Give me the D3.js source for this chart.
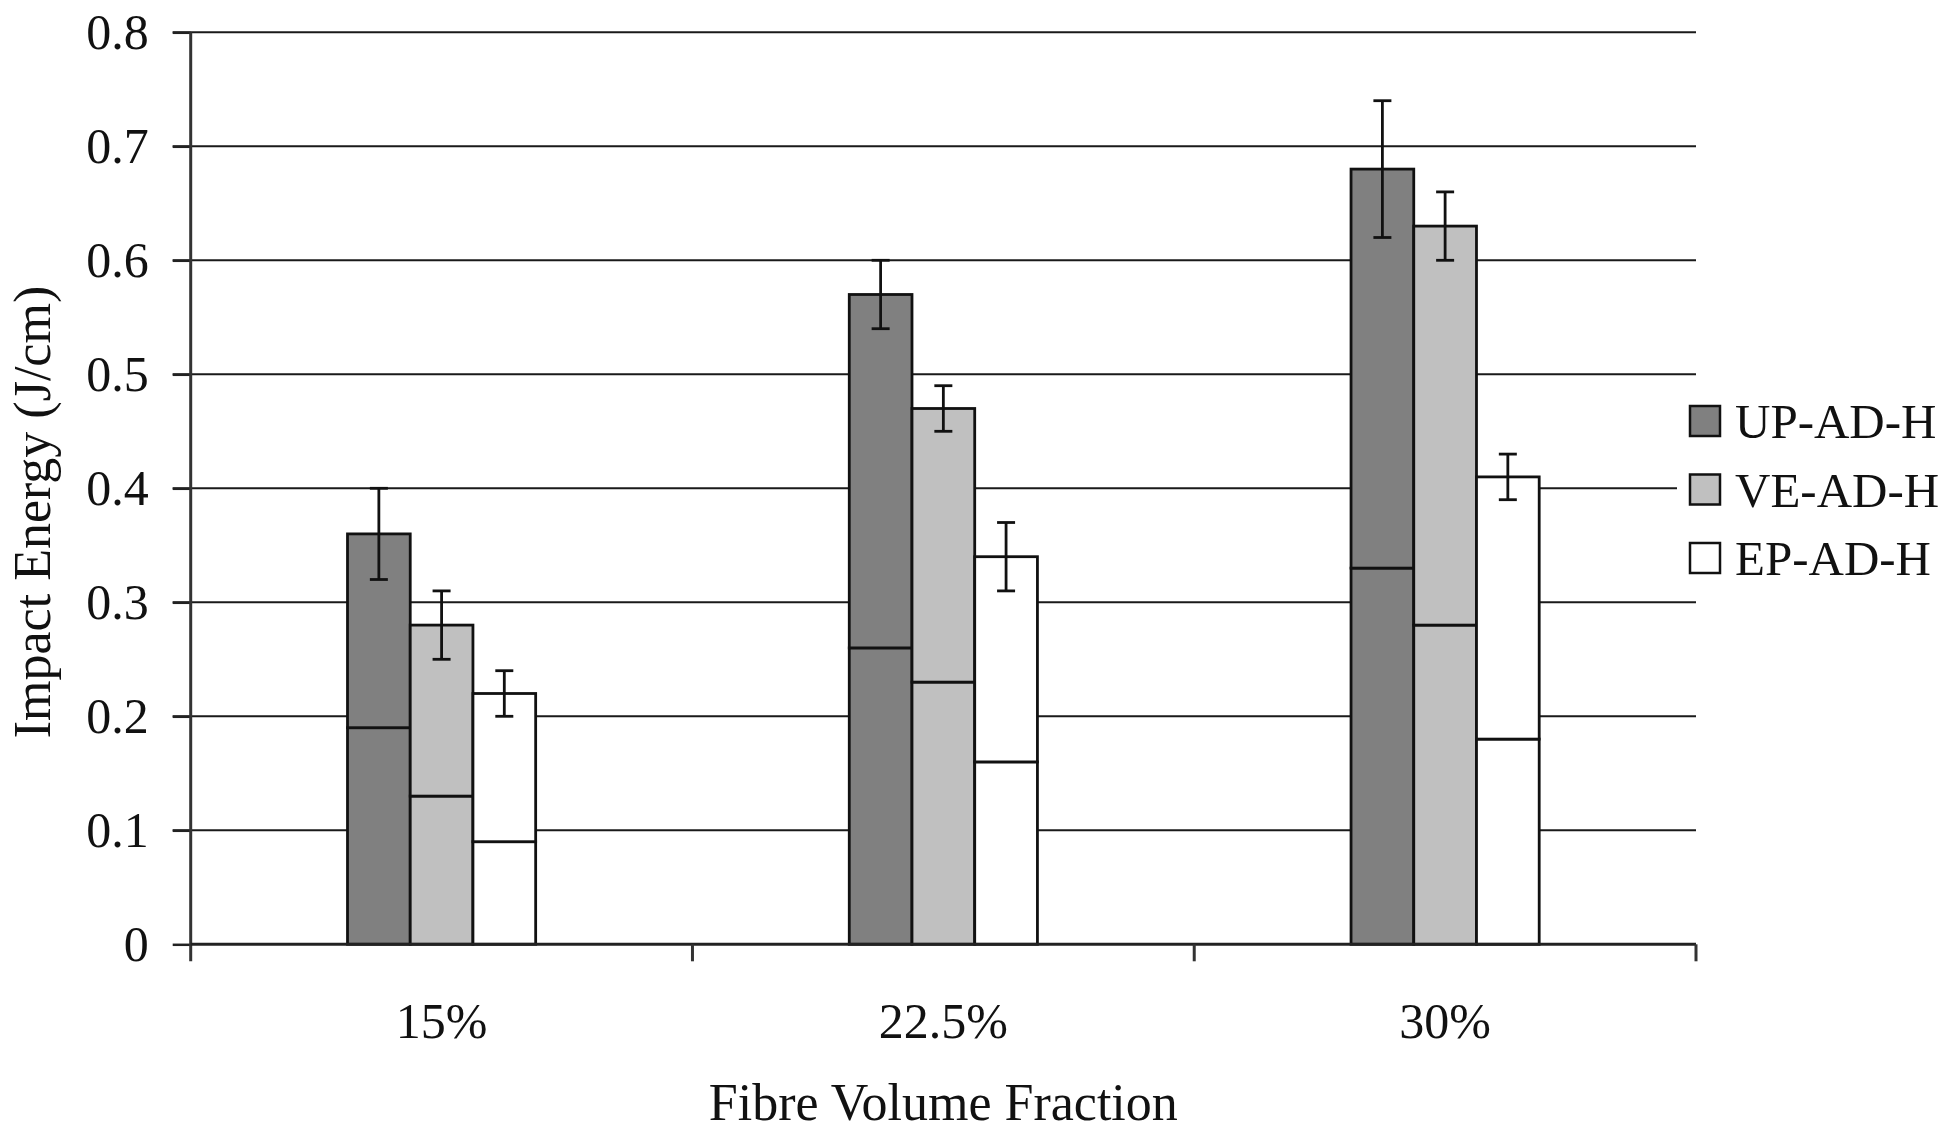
<!DOCTYPE html>
<html>
<head>
<meta charset="utf-8">
<script src="https://cdn.jsdelivr.net/npm/d3@7"></script>
<style>
  html, body { margin: 0; padding: 0; background: #fff; }
  svg { display: block; }
  text { font-family: "Liberation Serif", "Times New Roman", serif; fill: #111; }
</style>
</head>
<body>
<svg id="chart" width="1944" height="1131"></svg>
<script>
// ---- data ----
const categories = ["15%", "22.5%", "30%"];
const seriesNames = ["UP-AD-H", "VE-AD-H", "EP-AD-H"];
const upTotal = [0.36, 0.57, 0.68];
const upInner = [0.19, 0.26, 0.33];
const upErr   = [0.04, 0.03, 0.06];
const veTotal = [0.28, 0.47, 0.63];
const veInner = [0.13, 0.23, 0.28];
const veErr   = [0.03, 0.02, 0.03];
const epTotal = [0.22, 0.34, 0.41];
const epInner = [0.09, 0.16, 0.18];
const epErr   = [0.02, 0.03, 0.02];
const yTicks = [0, 0.1, 0.2, 0.3, 0.4, 0.5, 0.6, 0.7, 0.8];
const seriesColors = ["#808080", "#c0c0c0", "#ffffff"];

(function () {
const totals = [upTotal, veTotal, epTotal];
const inners = [upInner, veInner, epInner];
const errs = [upErr, veErr, epErr];

// ---- layout ----
const svg = d3.select("#chart");
const pL = 190.7, pR = 1696, pT = 32.3, pB = 944.3;

const x = d3.scaleBand().domain(categories).range([pL, pR]).padding(0);
const groupFrac = 0.375;
const sub = d3.scaleBand().domain(seriesNames).range([0, x.bandwidth() * groupFrac]).padding(0);
const groupOffset = x.bandwidth() * (1 - groupFrac) / 2;
const y = d3.scaleLinear().domain([0, 0.8]).range([pB, pT]);

const records = [];
categories.forEach((c, ci) => {
  seriesNames.forEach((s, si) => {
    records.push({ c, s, si, total: totals[si][ci], inner: inners[si][ci], err: errs[si][ci] });
  });
});

// gridlines
svg.append("g").selectAll("line").data(yTicks.filter(d => d > 0)).join("line")
  .attr("x1", pL - 18).attr("x2", pR)
  .attr("y1", d => y(d)).attr("y2", d => y(d))
  .attr("stroke", "#1a1a1a").attr("stroke-width", 2);

// bars (two segments each)
const barX = d => x(d.c) + groupOffset + sub(d.s);
const bars = svg.append("g");
bars.selectAll("rect.lower").data(records).join("rect").attr("class", "lower")
  .attr("x", barX).attr("width", sub.bandwidth())
  .attr("y", d => y(d.inner)).attr("height", d => y(0) - y(d.inner))
  .attr("fill", d => seriesColors[d.si]).attr("stroke", "#111").attr("stroke-width", 2.8);
bars.selectAll("rect.upper").data(records).join("rect").attr("class", "upper")
  .attr("x", barX).attr("width", sub.bandwidth())
  .attr("y", d => y(d.total)).attr("height", d => y(d.inner) - y(d.total))
  .attr("fill", d => seriesColors[d.si]).attr("stroke", "#111").attr("stroke-width", 2.8);

// error bars
const eg = svg.append("g").attr("stroke", "#111").attr("stroke-width", 2.8);
const cx = d => barX(d) + sub.bandwidth() / 2;
const capW = 9;
eg.selectAll("line.v").data(records).join("line").attr("class", "v")
  .attr("x1", cx).attr("x2", cx)
  .attr("y1", d => y(d.total + d.err)).attr("y2", d => y(d.total - d.err));
eg.selectAll("line.t").data(records).join("line").attr("class", "t")
  .attr("x1", d => cx(d) - capW).attr("x2", d => cx(d) + capW)
  .attr("y1", d => y(d.total + d.err)).attr("y2", d => y(d.total + d.err));
eg.selectAll("line.b").data(records).join("line").attr("class", "b")
  .attr("x1", d => cx(d) - capW).attr("x2", d => cx(d) + capW)
  .attr("y1", d => y(d.total - d.err)).attr("y2", d => y(d.total - d.err));

// y axis
const yAxis = svg.append("g").attr("transform", `translate(${pL},0)`)
  .call(d3.axisLeft(y).tickValues(yTicks).tickSize(18).tickPadding(24)
    .tickFormat(d => d === 0 ? "0" : d.toFixed(1)));
yAxis.select(".domain").remove();
yAxis.selectAll(".tick line").attr("stroke", "#222").attr("stroke-width", 2.5);
yAxis.selectAll("text").attr("font-size", 50).attr("font-family", "Liberation Serif").attr("fill", "#111");
svg.append("line").attr("x1", pL).attr("x2", pL).attr("y1", pT).attr("y2", pB + 17)
  .attr("stroke", "#333").attr("stroke-width", 3);

// x axis
const xAxis = svg.append("g").attr("transform", `translate(0,${pB})`)
  .call(d3.axisBottom(x).tickSize(0).tickPadding(58));
xAxis.select(".domain").remove();
xAxis.selectAll("text").attr("font-size", 50).attr("font-family", "Liberation Serif").attr("fill", "#111");
svg.append("line").attr("x1", pL).attr("x2", pR).attr("y1", pB).attr("y2", pB)
  .attr("stroke", "#222").attr("stroke-width", 3);
svg.append("g").selectAll("line").data(categories).join("line")
  .attr("x1", d => x(d) + x.bandwidth()).attr("x2", d => x(d) + x.bandwidth())
  .attr("y1", pB).attr("y2", pB + 17)
  .attr("stroke", "#333").attr("stroke-width", 3);

// axis titles
svg.append("text").attr("x", (pL + pR) / 2).attr("y", 1120)
  .attr("text-anchor", "middle").attr("font-size", 52).text("Fibre Volume Fraction");
svg.append("text").attr("transform", "translate(50,512) rotate(-90)")
  .attr("text-anchor", "middle").attr("font-size", 52).text("Impact Energy (J/cm)");

// legend
const lg = svg.append("g");
lg.append("rect").attr("x", 1677).attr("y", 386).attr("width", 267).attr("height", 208).attr("fill", "#fff");
const rowsY = [421, 489.5, 558];
seriesNames.forEach((s, i) => {
  lg.append("rect").attr("x", 1690).attr("y", rowsY[i] - 15).attr("width", 30).attr("height", 30)
    .attr("fill", seriesColors[i]).attr("stroke", "#111").attr("stroke-width", 2.5);
  lg.append("text").attr("x", 1735).attr("y", rowsY[i] + 17).attr("font-size", 49).text(s);
});
})();
</script>
</body>
</html>
